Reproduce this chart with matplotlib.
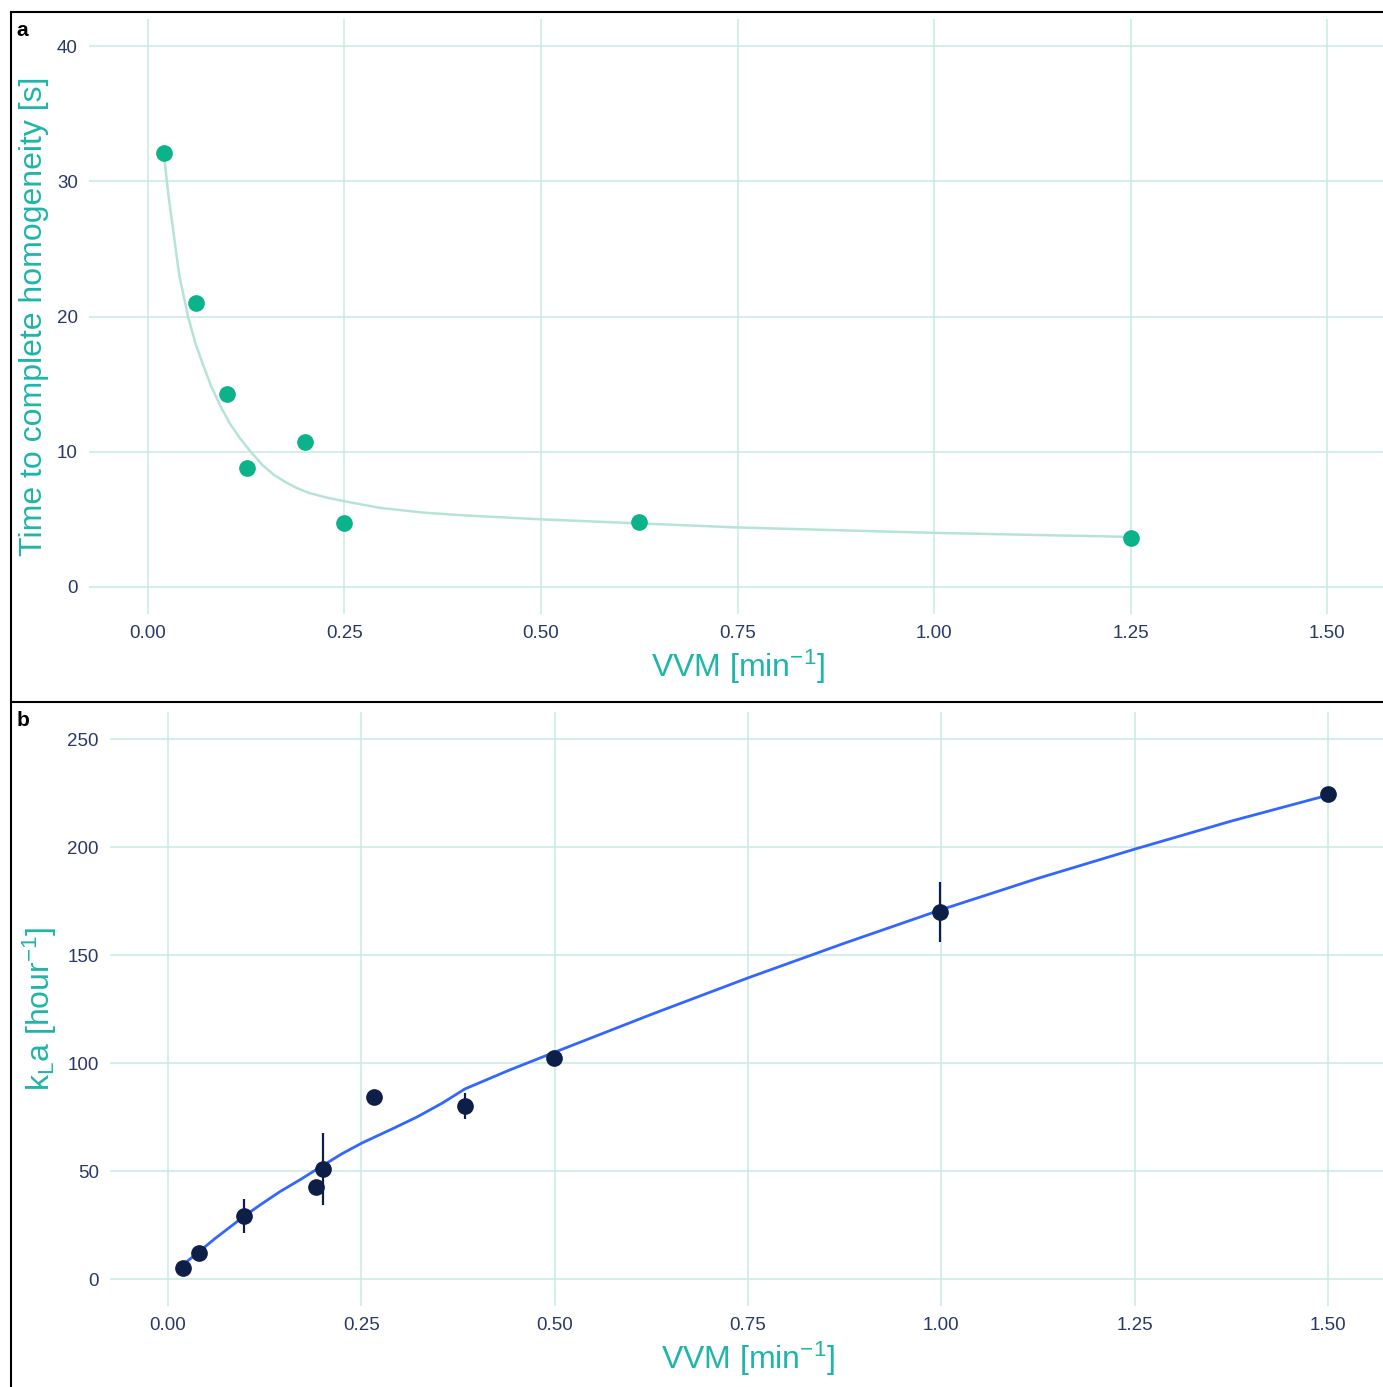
import matplotlib
matplotlib.use("Agg")
from matplotlib import pyplot as plt
from matplotlib.lines import Line2D

plt.rcParams['font.family'] = ['Liberation Sans', 'DejaVu Sans']
plt.rcParams['mathtext.fontset'] = 'custom'
plt.rcParams['mathtext.rm'] = 'Liberation Sans'
plt.rcParams['mathtext.it'] = 'Liberation Sans'

# panel a: mixing time vs aeration
vvm_a = [0.020, 0.061, 0.100, 0.126, 0.200, 0.250, 0.625, 1.250]
time_a = [32.1, 21.0, 14.3, 8.8, 10.7, 4.7, 4.8, 3.6]
fit_a_x = [0.020, 0.026, 0.032, 0.040, 0.051, 0.060, 0.069, 0.080, 0.092,
           0.104, 0.117, 0.132, 0.146, 0.160, 0.175, 0.190, 0.205, 0.228,
           0.253, 0.295, 0.35, 0.40, 0.50, 0.625, 0.75, 0.875, 1.00, 1.125, 1.25]
fit_a_y = [32.1, 29.0, 26.4, 23.0, 20.0, 18.1, 16.6, 14.9, 13.4,
           12.1, 11.0, 9.9, 9.0, 8.3, 7.75, 7.3, 6.95, 6.6,
           6.3, 5.85, 5.5, 5.3, 5.0, 4.7, 4.4, 4.2, 4.0, 3.85, 3.7]

# panel b: kLa vs aeration
vvm_b = [0.019, 0.040, 0.098, 0.191, 0.200, 0.266, 0.384, 0.499, 0.998, 1.500]
kla_b = [5.1, 12.0, 29.2, 42.6, 50.9, 84.3, 80.1, 102.3, 169.9, 224.5]
kla_err = [0.0, 0.0, 8.0, 0.0, 16.7, 0.0, 6.0, 0.0, 14.0, 3.0]
fit_b_x = [0.019, 0.040, 0.060, 0.080, 0.097, 0.120, 0.145, 0.171, 0.200,
           0.225, 0.251, 0.290, 0.322, 0.355, 0.384, 0.44,
           0.50, 0.625, 0.75, 0.875, 1.00, 1.125, 1.25, 1.375, 1.50]
fit_b_y = [6.5, 12.6, 18.5, 24.0, 28.7, 34.5, 40.5, 46.0, 52.5,
           58.0, 63.0, 69.5, 75.0, 81.5, 88.0, 96.5,
           105.0, 122.5, 139.4, 155.5, 171.0, 185.5, 199.0, 212.0, 224.0]

xticks = [0.00, 0.25, 0.50, 0.75, 1.00, 1.25, 1.50]
xticklabels = ["0.00", "0.25", "0.50", "0.75", "1.00", "1.25", "1.50"]

grid_col = "#c6ebe1"
title_col = "#1fb5a8"
tick_col = "#2a3868"

W, H = 1383, 1387
fig = plt.figure(figsize=(W / 100, H / 100), dpi=100)


def style(ax, yticks):
    ax.set_xlim(-0.075, 1.575)
    ax.set_xticks(xticks)
    ax.set_xticklabels(xticklabels)
    ax.set_yticks(yticks)
    for s in ax.spines.values():
        s.set_visible(False)
    ax.tick_params(length=0, labelsize=13.5, labelcolor=tick_col, pad=8)
    ax.grid(True, color=grid_col, linewidth=1.1)
    ax.set_axisbelow(True)


ax1 = fig.add_axes([89 / W, 1 - 614 / H, (1386 - 89) / W, (614 - 19) / H])
style(ax1, [0, 10, 20, 30, 40])
ax1.set_ylim(-2, 42)
ax1.plot(fit_a_x, fit_a_y, color="#b5e4d7", lw=1.8, zorder=2)
ax1.plot(vvm_a, time_a, "o", color="#0bb38a", ms=11, zorder=3)
ax1.set_ylabel("Time to complete homogeneity [s]", fontsize=23, color=title_col, labelpad=6)
ax1.set_xlabel("VVM [min$^{-1}$]", fontsize=23, color=title_col, labelpad=4)

ax2 = fig.add_axes([110 / W, 1 - 1306 / H, (1386 - 110) / W, (1306 - 712) / H])
style(ax2, [0, 50, 100, 150, 200, 250])
ax2.set_ylim(-12.5, 262.5)
ax2.errorbar(vvm_b, kla_b, yerr=kla_err, fmt="none", ecolor="#0d1f47", elinewidth=1.6, zorder=2)
ax2.plot(fit_b_x, fit_b_y, color="#3366ff", lw=2, zorder=3)
ax2.plot(vvm_b, kla_b, "o", color="#0d1f47", ms=11, zorder=4)
ax2.set_ylabel("k$_\\mathrm{L}$a [hour$^{-1}$]", fontsize=23, color=title_col, labelpad=6)
ax2.set_xlabel("VVM [min$^{-1}$]", fontsize=23, color=title_col, labelpad=4)

# panel borders
fig.add_artist(Line2D([11 / W, 1], [1 - 12 / H, 1 - 12 / H], color="black", lw=1.5))
fig.add_artist(Line2D([11 / W, 11 / W], [0, 1 - 12 / H], color="black", lw=1.5))
fig.add_artist(Line2D([11 / W, 1], [1 - 702 / H, 1 - 702 / H], color="black", lw=1.5))

fig.text(16 / W, 1 - 30 / H, "a", fontsize=15, fontweight="bold", va="center")
fig.text(17 / W, 1 - 721 / H, "b", fontsize=15, fontweight="bold", va="center")

fig.savefig("out.png", dpi=100)
